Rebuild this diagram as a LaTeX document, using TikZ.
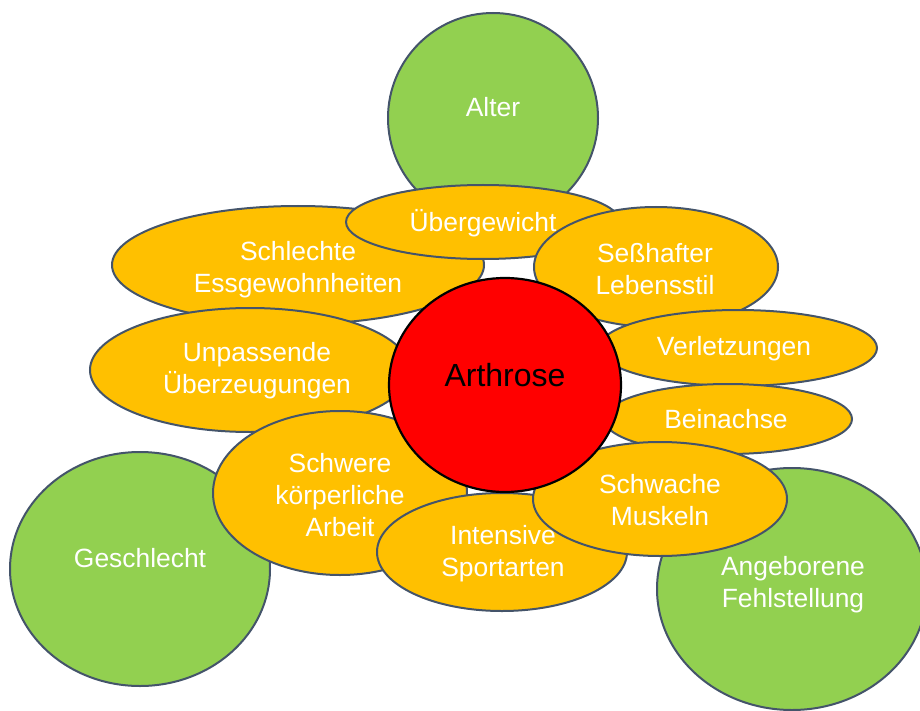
\documentclass[tikz,border=0pt]{standalone}
\usepackage{fontspec}
\setmainfont{Liberation Sans}
\usetikzlibrary{shapes.geometric}
\definecolor{leaf}{HTML}{92D050}
\definecolor{amber}{HTML}{FFC000}
\definecolor{core}{HTML}{FF0000}
\definecolor{rim}{HTML}{44546A}
\tikzset{
  bubble/.style={ellipse, draw=rim, line width=2pt, inner sep=0pt},
  factor/.style={bubble, fill=leaf},
  cause/.style={bubble, fill=amber},
  hub/.style={ellipse, draw=black, line width=2.2pt, fill=core, inner sep=0pt},
  dims/.style 2 args={minimum width=#1pt, minimum height=#2pt},
  lbl/.style={text=white, font=\fontsize{26.4}{32}\selectfont, align=center, inner sep=0pt},
  hublbl/.style={text=black, font=\fontsize{32}{38}\selectfont, inner sep=0pt},
}
\begin{document}
\begin{tikzpicture}[x=1pt, y=-1pt]
  \useasboundingbox (0,0) rectangle (920,711);
  \clip (0,0) rectangle (920,711);

  % outer (green) factors
  \node[factor, dims={210}{210}] (alter) at (493,118) {};
  \node[factor, dims={260}{234}] (geschlecht) at (140,569) {};
  \node[factor, dims={270}{242}] (angeboren) at (792,589) {};

  % causes (orange), back to front
  \node[cause, dims={372}{118}] (essen) at (298,265) {};
  \node[cause, dims={320}{124}] (ueberzeug) at (250,370) {};
  \node[cause, dims={274}{74}]  (gewicht) at (483,222) {};
  \node[cause, dims={244}{120}] (sitzen) at (656,267) {};
  \node[cause, dims={278}{76}]  (verletz) at (738,348) {};
  \node[cause, dims={248}{70}]  (bein) at (728,419) {};
  \node[cause, dims={254}{164}] (arbeit) at (340,493) {};
  \node[cause, dims={250}{118}] (sport) at (502,552) {};
  \node[cause, dims={254}{114}] (muskel) at (660,499) {};

  % central condition
  \node[hub, dims={232}{214}] (arthrose) at (505,385) {};

  % labels
  \node[lbl] (t-alter) at (493,107) {Alter};
  \node[lbl] (t-geschlecht) at (140,558) {Geschlecht};
  \node[lbl] (t-angeboren) at (793,585) {Angeborene\\Fehlstellung};
  \node[lbl] (t-essen) at (298,270) {Schlechte\\Essgewohnheiten};
  \node[lbl] (t-ueberzeug) at (257,371) {Unpassende\\Überzeugungen};
  \node[lbl] (t-gewicht) at (483,223) {Übergewicht};
  \node[lbl] (t-sitzen) at (655,269) {Seßhafter\\Lebensstil};
  \node[lbl] (t-verletz) at (734,349) {Verletzungen};
  \node[lbl] (t-bein) at (726,419) {Beinachse};
  \node[lbl] (t-arbeit) at (340,495) {Schwere\\körperliche\\Arbeit};
  \node[lbl] (t-sport) at (503,554) {Intensive\\Sportarten};
  \node[lbl] (t-muskel) at (660,500) {Schwache\\Muskeln};
  \node[hublbl] (t-arthrose) at (505,375) {Arthrose};
\end{tikzpicture}
\end{document}
